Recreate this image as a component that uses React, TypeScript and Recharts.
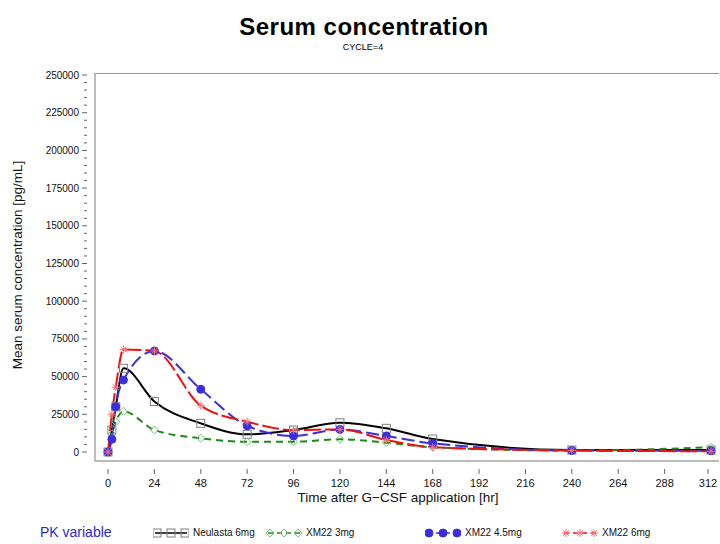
import { LineChart, Line, XAxis, YAxis } from "recharts";

// sampling times [hr]
const hours = [0, 2, 4, 8, 24, 48, 72, 96, 120, 144, 168, 240, 312];

// mean serum concentration [pg/mL]
const neulasta6 = [0, 14500, 30000, 55500, 33500, 19000, 11700, 14600, 19400, 15700, 8600, 1300, 1300];
const xm22_3 = [0, 12000, 20000, 27000, 14600, 9100, 6800, 6800, 8400, 6200, 3100, 1000, 3100];
const xm22_45 = [0, 8400, 30000, 47700, 67000, 41600, 17400, 10600, 15000, 10600, 5700, 1000, 800];
const xm22_6 = [0, 25000, 43000, 68000, 67000, 30700, 20100, 14600, 15000, 8000, 3100, 1000, 500];

const xTicks = [0, 24, 48, 72, 96, 120, 144, 168, 192, 216, 240, 264, 288, 312];
const yMinorTicks = Array.from({ length: 51 }, (_, i) => i * 5000);

const data = hours.map((h, i) => ({
  hour: h,
  neulasta6: neulasta6[i],
  xm22_3: xm22_3[i],
  xm22_45: xm22_45[i],
  xm22_6: xm22_6[i],
}));

const FONT = "'Liberation Sans', Arial, sans-serif";

function SquareDot({ cx, cy }: any) {
  if (cx == null || cy == null) return null;
  return <rect x={cx - 4} y={cy - 4} width={8} height={8} fill="none" stroke="#808080" strokeWidth={1} />;
}

function DiamondDot({ cx, cy }: any) {
  if (cx == null || cy == null) return null;
  return (
    <path
      d={`M${cx},${cy - 4}L${cx + 4},${cy}L${cx},${cy + 4}L${cx - 4},${cy}Z`}
      fill="none"
      stroke="#7fbf7f"
      strokeWidth={1}
    />
  );
}

function CircleDot({ cx, cy }: any) {
  if (cx == null || cy == null) return null;
  return <circle cx={cx} cy={cy} r={4} fill="#3a2ee0" stroke="#3a2ee0" />;
}

function StarDot({ cx, cy }: any) {
  if (cx == null || cy == null) return null;
  const r = 4;
  const d = 2.8;
  return (
    <g stroke="#ff7070" strokeWidth={1}>
      <line x1={cx - r} y1={cy} x2={cx + r} y2={cy} />
      <line x1={cx} y1={cy - r} x2={cx} y2={cy + r} />
      <line x1={cx - d} y1={cy - d} x2={cx + d} y2={cy + d} />
      <line x1={cx - d} y1={cy + d} x2={cx + d} y2={cy - d} />
    </g>
  );
}

const series = [
  { key: "neulasta6", name: "Neulasta 6mg", color: "#000000", dash: undefined, Dot: SquareDot, left: 153 },
  { key: "xm22_3", name: "XM22 3mg", color: "#1a8a1a", dash: "7 5", Dot: DiamondDot, left: 266 },
  { key: "xm22_45", name: "XM22 4.5mg", color: "#3a2ee0", dash: "13 5", Dot: CircleDot, left: 425 },
  { key: "xm22_6", name: "XM22 6mg", color: "#ee1111", dash: "17 4", Dot: StarDot, left: 562 },
];

function YTick({ x, y, payload }: any) {
  const major = payload.value % 25000 === 0;
  return (
    <g>
      <line x1={x} y1={y} x2={x - (major ? 5 : 3)} y2={y} stroke="#666" />
      {major && (
        <text x={x - 8} y={y} dy={3.5} textAnchor="end" fontSize={10} fontFamily={FONT} fill="#111">
          {payload.value}
        </text>
      )}
    </g>
  );
}

function XTick({ x, y, payload }: any) {
  return (
    <g>
      <line x1={x} y1={y} x2={x} y2={y + 5} stroke="#666" />
      <text x={x} y={y + 18} textAnchor="middle" fontSize={11} fontFamily={FONT} fill="#111">
        {payload.value}
      </text>
    </g>
  );
}

function LegendSample({ s }: { s: (typeof series)[number] }) {
  const { Dot } = s;
  return (
    <svg width={36} height={12} style={{ verticalAlign: "middle" }}>
      <line x1={2} y1={6} x2={34} y2={6} stroke={s.color} strokeWidth={1.5} strokeDasharray={s.dash ? "5 4" : undefined} />
      <Dot cx={4} cy={6} />
      <Dot cx={18} cy={6} />
      <Dot cx={32} cy={6} />
    </svg>
  );
}

export default function App() {
  return (
    <div style={{ position: "absolute", left: 0, top: 0, width: 720, height: 544, background: "#fff", fontFamily: FONT }}>
      <div style={{ position: "absolute", left: 0, top: 13, width: 728, textAlign: "center", fontSize: 24, fontWeight: "bold", letterSpacing: 0.5 }}>
        Serum concentration
      </div>
      <div style={{ position: "absolute", left: 0, top: 42, width: 726, textAlign: "center", fontSize: 9 }}>
        CYCLE=4
      </div>

      <LineChart width={720} height={544} data={data} margin={{ top: 73, right: 1, bottom: 43, left: 35 }}>
        <XAxis
          dataKey="hour"
          type="number"
          domain={[0, 312]}
          ticks={xTicks}
          padding={{ left: 13, right: 8 }}
          height={40}
          axisLine={{ stroke: "#777" }}
          tickLine={false}
          tick={<XTick />}
          label={{
            content: () => (
              <text x={398} y={502} textAnchor="middle" fontSize={13.5} fontFamily={FONT} fill="#111">
                Time after G−CSF application [hr]
              </text>
            ),
          }}
        />
        <YAxis
          type="number"
          domain={[0, 250000]}
          ticks={yMinorTicks}
          interval={0}
          padding={{ top: 2, bottom: 9 }}
          width={60}
          axisLine={{ stroke: "#777" }}
          tickLine={false}
          tick={<YTick />}
          label={{
            content: () => (
              <text x={22} y={265} transform="rotate(-90 22 265)" textAnchor="middle" fontSize={13.5} fontFamily={FONT} fill="#111">
                Mean serum concentration [pg/mL]
              </text>
            ),
          }}
        />
        {series.map((s) => (
          <Line
            key={s.key}
            dataKey={s.key}
            name={s.name}
            type="monotone"
            stroke={s.color}
            strokeWidth={2}
            strokeDasharray={s.dash}
            dot={<s.Dot />}
            activeDot={false}
            isAnimationActive={false}
          />
        ))}
      </LineChart>

      {/* frame top border */}
      <div style={{ position: "absolute", left: 95, top: 73, width: 624, height: 0, borderTop: "1px solid #999" }} />

      <div style={{ position: "absolute", left: 40, top: 524, fontSize: 14, color: "#2a2ad0" }}>PK variable</div>
      {series.map((s) => (
        <div key={s.key} style={{ position: "absolute", left: s.left, top: 527, fontSize: 10, whiteSpace: "nowrap", color: "#111" }}>
          <LegendSample s={s} />
          <span style={{ marginLeft: 4 }}>{s.name}</span>
        </div>
      ))}
    </div>
  );
}
